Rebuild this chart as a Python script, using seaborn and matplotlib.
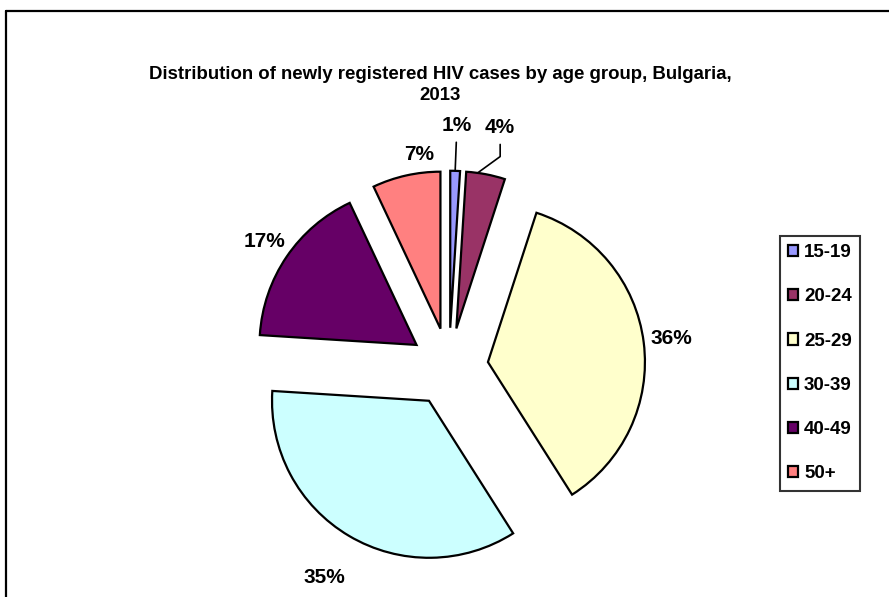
import matplotlib as mpl
mpl.use('Agg')
import matplotlib.pyplot as plt
from matplotlib.lines import Line2D
import numpy as np
import seaborn as sns

sns.set_style("white")
plt.rcParams['font.family'] = ['Liberation Sans', 'DejaVu Sans']
plt.rcParams['font.weight'] = 'bold'
plt.rcParams['text.color'] = 'black'

# data
age_groups = ['15-19', '20-24', '25-29', '30-39', '40-49', '50+']
shares = [1, 4, 36, 35, 17, 7]
colors = ['#9999FF', '#993366', '#FFFFCC', '#CCFFFF', '#660066', '#FF8080']
title = "Distribution of newly registered HIV cases by age group, Bulgaria,\n2013"

W, H = 889, 597
fig = plt.figure(figsize=(W / 100, H / 100), dpi=100)
ax = fig.add_axes([0, 0, 1, 1])

# pie centre / radius in pixels
cx, cy, rad = 449, 367, 157
expl = 0.25
wedges, _ = ax.pie(shares, colors=colors, startangle=90, counterclock=False,
                   explode=[expl] * len(shares),
                   wedgeprops=dict(edgecolor='black', linewidth=1.6))
ax.set_xlim(-cx / rad, (W - cx) / rad)
ax.set_ylim(-(H - cy) / rad, cy / rad)
ax.set_aspect('auto')
ax.axis('off')

# percentage labels along each wedge's mid angle (small angle nudges, degrees)
label_dist = [1.29, 1.31, 1.18, 1.31, 1.17, 1.12]
label_nudge = [0, -1.5, 0, 0, 0, -5.5]
leader = [None, "angle,angleA=90,angleB=36,rad=0", False, False, False, False]
for w, s, d, nd, ld in zip(wedges, shares, label_dist, label_nudge, leader):
    mid = np.deg2rad((w.theta1 + w.theta2) / 2)
    th = mid + np.deg2rad(nd)
    x0, y0 = w.center
    tx, ty = x0 + d * np.cos(th), y0 + d * np.sin(th)
    if ld is not False:
        ea = mid + np.deg2rad(3) if ld else mid
        ex, ey = x0 + np.cos(ea), y0 + np.sin(ea)
        props = dict(arrowstyle='-', color='black', lw=1.2,
                     relpos=(0.5, 0), shrinkA=3, shrinkB=0)
        if ld:
            props['connectionstyle'] = ld
        ax.annotate(f"{s}%", xy=(ex, ey), xytext=(tx, ty), ha='center', va='center',
                    fontsize=15, fontweight='bold', arrowprops=props)
    else:
        ax.text(tx, ty, f"{s}%", ha='center', va='center', fontsize=15, fontweight='bold')

leg = ax.legend(wedges, age_groups, loc='upper left', bbox_to_anchor=(0.877, 0.605),
                bbox_transform=fig.transFigure, fontsize=13.5, frameon=True, fancybox=False,
                handlelength=0.55, handleheight=0.55, handletextpad=0.3,
                labelspacing=1.45, borderpad=0.45, borderaxespad=0)
leg.get_frame().set_edgecolor('black')
leg.get_frame().set_linewidth(1.5)
for t in leg.get_texts():
    t.set_fontweight('bold')

fig.text(440 / W, 1 - 85 / H, title, ha='center', va='center', fontsize=13.4,
         fontweight='bold', linespacing=1.3)

# outer chart border (right and bottom edges lie outside the image)
fig.add_artist(Line2D([6 / W, 6 / W], [-0.01, 1 - 11 / H], color='black', lw=1.6,
                      transform=fig.transFigure))
fig.add_artist(Line2D([6 / W, 1.01], [1 - 11 / H, 1 - 11 / H], color='black', lw=1.6,
                      transform=fig.transFigure))

fig.savefig('out.png', dpi=100)
